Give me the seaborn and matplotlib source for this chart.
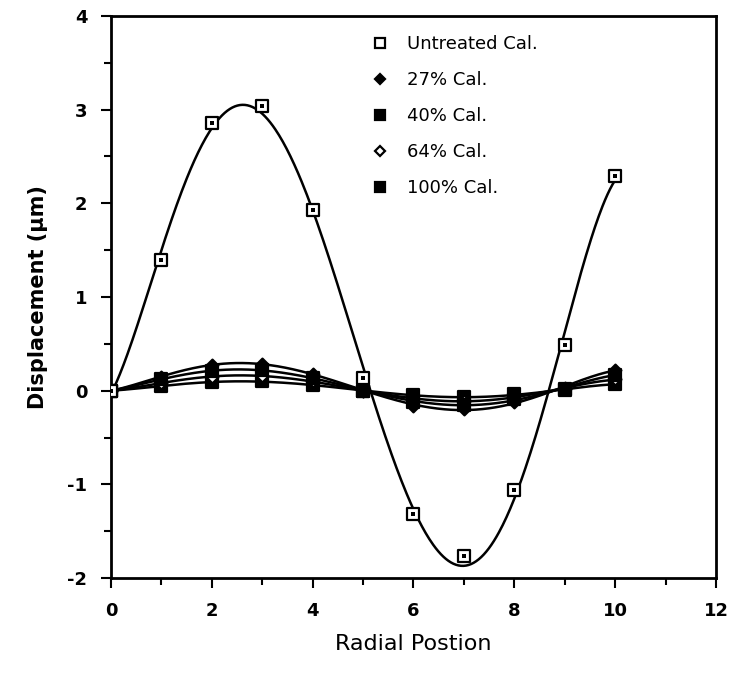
import numpy as np
import pandas as pd
import matplotlib
matplotlib.use("Agg")
import matplotlib.pyplot as plt
from matplotlib.lines import Line2D
from matplotlib.ticker import MultipleLocator
import seaborn as sns

# Radial positions and measured displacements (µm)
radial = [0, 1, 2, 3, 4, 5, 6, 7, 8, 9, 10]
untreated = [0.0, 1.39, 2.86, 3.04, 1.93, 0.14, -1.32, -1.77, -1.06, 0.49, 2.29]
cal_27 = [0.0, 0.15, 0.27, 0.29, 0.18, 0.0, -0.16, -0.20, -0.12, 0.03, 0.22]
cal_40 = [0.0, 0.12, 0.21, 0.22, 0.14, 0.0, -0.12, -0.15, -0.09, 0.02, 0.17]
cal_64 = [0.0, 0.08, 0.15, 0.16, 0.10, 0.0, -0.09, -0.11, -0.06, 0.02, 0.12]
cal_100 = [0.0, 0.05, 0.09, 0.10, 0.06, 0.0, -0.05, -0.07, -0.04, 0.01, 0.07]

labels = ["Untreated Cal.", "27% Cal.", "40% Cal.", "64% Cal.", "100% Cal."]
series = [untreated, cal_27, cal_40, cal_64, cal_100]

sns.set_theme(style="ticks")
plt.rcParams["font.family"] = ["DejaVu Sans"]
plt.rcParams["axes.unicode_minus"] = False
for key in ("text.color", "axes.labelcolor", "xtick.color", "ytick.color"):
    plt.rcParams[key] = "black"

fig = plt.figure(figsize=(7.33, 6.83), dpi=100)
ax = fig.add_axes([0.1514, 0.1537, 0.8254, 0.8229])

# Smooth 5th-order least-squares curve through each series
xs = np.linspace(0, 10, 400)
curves = []
points = []
for lab, vals in zip(labels, series):
    coef = np.polyfit(radial, vals, 5)
    curves.append(pd.DataFrame({"x": xs, "y": np.polyval(coef, xs), "s": lab}))
    points.append(pd.DataFrame({"x": radial, "y": vals, "s": lab}))
curve_df = pd.concat(curves)
point_df = pd.concat(points)

sns.lineplot(data=curve_df, x="x", y="y", units="s", estimator=None,
             color="black", linewidth=1.8, ax=ax, legend=False)

marker_style = {
    "Untreated Cal.": dict(marker="s", facecolor="white", size=9),
    "27% Cal.": dict(marker="D", facecolor="black", size=6),
    "40% Cal.": dict(marker="s", facecolor="black", size=9),
    "64% Cal.": dict(marker="D", facecolor="white", size=6),
    "100% Cal.": dict(marker="s", facecolor="black", size=9),
}
order = ["100% Cal.", "64% Cal.", "40% Cal.", "27% Cal.", "Untreated Cal."]
for lab in order:
    st = marker_style[lab]
    sub = point_df[point_df["s"] == lab]
    sns.scatterplot(data=sub, x="x", y="y", marker=st["marker"], s=st["size"] ** 2,
                    color=st["facecolor"], edgecolor="black", linewidth=1.6,
                    ax=ax, legend=False, zorder=3)
    if lab == "Untreated Cal.":
        sns.scatterplot(data=sub, x="x", y="y", marker="s", s=5, color="black",
                        linewidth=0, ax=ax, legend=False, zorder=4)

ax.set_xlim(0, 12)
ax.set_ylim(-2, 4)
ax.xaxis.set_major_locator(MultipleLocator(2))
ax.xaxis.set_minor_locator(MultipleLocator(1))
ax.yaxis.set_major_locator(MultipleLocator(1))
ax.yaxis.set_minor_locator(MultipleLocator(0.5))
ax.tick_params(which="both", direction="out", color="black", width=1.5)
ax.tick_params(which="major", length=7, labelsize=13, pad=10)
ax.tick_params(which="minor", length=5)
for lbl in ax.get_xticklabels() + ax.get_yticklabels():
    lbl.set_fontweight("bold")
for sp in ax.spines.values():
    sp.set_linewidth(2)
    sp.set_color("black")

ax.set_xlabel("Radial Postion", fontsize=16, labelpad=10)
ax.set_ylabel("Displacement (µm)", fontsize=15, fontweight="bold", labelpad=14)

handles = []
for lab in labels:
    st = marker_style[lab]
    handles.append(Line2D([], [], linestyle="none", marker=st["marker"],
                          markersize=st["size"] * 0.8, markerfacecolor=st["facecolor"],
                          markeredgecolor="black", markeredgewidth=1.6))
ax.legend(handles, labels, loc="upper left", bbox_to_anchor=(0.40, 0.995),
          frameon=False, fontsize=13, handletextpad=0.9, labelspacing=1.0,
          handlelength=1.2, labelcolor="black")

fig.savefig("out.png", dpi=100, facecolor="white")
